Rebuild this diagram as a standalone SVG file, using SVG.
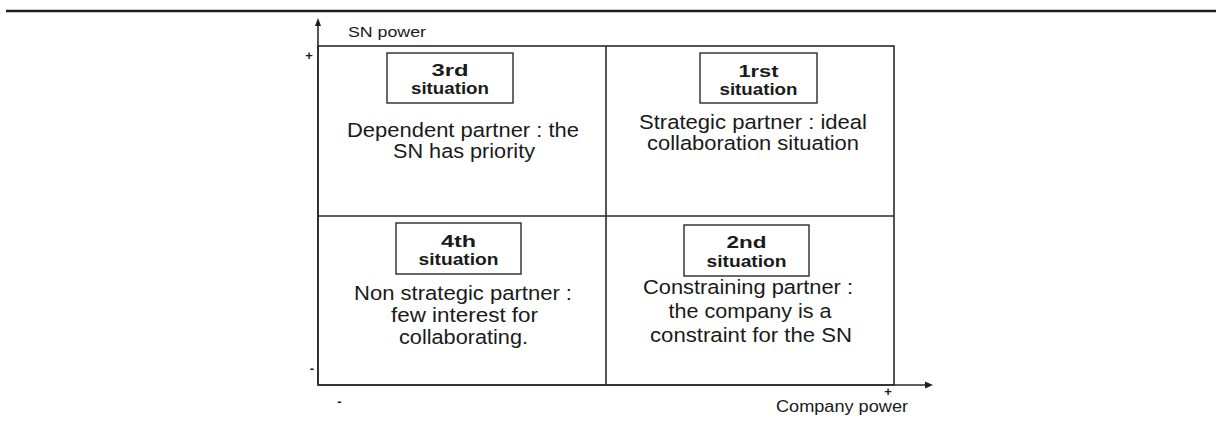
<svg xmlns="http://www.w3.org/2000/svg" width="1218" height="423" viewBox="0 0 1218 423">
<style>
.t{font-family:"Liberation Sans",Arial,sans-serif;fill:#1a1a1a;text-anchor:middle}
.body{font-size:20.5px}
.bold{font-size:16px;font-weight:bold}
.ax{font-family:"Liberation Sans",Arial,sans-serif;fill:#1a1a1a}
.sign{font-family:"Liberation Sans",Arial,sans-serif;fill:#1a1a1a;font-weight:bold;font-size:13px;text-anchor:middle}
.grid{fill:none;stroke:#2a2a2a;stroke-width:1.6}
.box{fill:#fff;stroke:#2a2a2a;stroke-width:1.4}
</style>
<rect width="1218" height="423" fill="#fff"/>
<line x1="6" y1="11" x2="1216" y2="11" stroke="#1e1e1e" stroke-width="2.5"/>
<g id="connectors">
<line class="grid" x1="318" y1="385" x2="318" y2="24"/>
<polygon points="318,18 315,26 321,26" fill="#1e1e1e"/>
<line class="grid" x1="318" y1="385" x2="927" y2="385"/>
<polygon points="933,385 925,381.5 925,388.5" fill="#1e1e1e"/>
<text class="ax" x="348" y="37" font-size="15.5" textLength="78" lengthAdjust="spacingAndGlyphs">SN power</text>
<text class="ax" x="776" y="412" font-size="16" textLength="132" lengthAdjust="spacingAndGlyphs">Company power</text>
<text class="sign" x="309" y="60">+</text>
<text class="sign" x="312" y="372.5">-</text>
<text class="sign" x="339.5" y="405.5">-</text>
<text class="sign" x="888" y="396">+</text>
</g>
<g id="grid">
<rect class="grid" x="318" y="46" width="576" height="339"/>
<line class="grid" x1="606" y1="46" x2="606" y2="385"/>
<line class="grid" x1="318" y1="216" x2="894" y2="216"/>
</g>
<g id="q3">
<rect class="box" x="387" y="53" width="126" height="50"/>
<text class="t bold" x="450" y="76" textLength="37" lengthAdjust="spacingAndGlyphs">3rd</text>
<text class="t bold" x="450" y="94" textLength="78" lengthAdjust="spacingAndGlyphs">situation</text>
<text class="t body" x="463" y="137" textLength="232" lengthAdjust="spacingAndGlyphs">Dependent partner : the</text>
<text class="t body" x="464" y="158" textLength="142" lengthAdjust="spacingAndGlyphs">SN has priority</text>
</g>
<g id="q1">
<rect class="box" x="700" y="53" width="117" height="50"/>
<text class="t bold" x="758.5" y="77" textLength="40" lengthAdjust="spacingAndGlyphs">1rst</text>
<text class="t bold" x="758.5" y="95" textLength="78" lengthAdjust="spacingAndGlyphs">situation</text>
<text class="t body" x="753" y="129" textLength="228" lengthAdjust="spacingAndGlyphs">Strategic partner : ideal</text>
<text class="t body" x="753" y="150" textLength="212" lengthAdjust="spacingAndGlyphs">collaboration situation</text>
</g>
<g id="q4">
<rect class="box" x="396" y="223" width="125" height="51"/>
<text class="t bold" x="458.5" y="247" textLength="35" lengthAdjust="spacingAndGlyphs">4th</text>
<text class="t bold" x="458.5" y="265" textLength="80" lengthAdjust="spacingAndGlyphs">situation</text>
<text class="t body" x="463" y="300" textLength="218" lengthAdjust="spacingAndGlyphs">Non strategic partner :</text>
<text class="t body" x="464.5" y="322" textLength="147" lengthAdjust="spacingAndGlyphs">few interest for</text>
<text class="t body" x="463.5" y="344" textLength="129" lengthAdjust="spacingAndGlyphs">collaborating.</text>
</g>
<g id="q2">
<rect class="box" x="684" y="225" width="125" height="51"/>
<text class="t bold" x="746.5" y="248" textLength="40" lengthAdjust="spacingAndGlyphs">2nd</text>
<text class="t bold" x="746.5" y="267" textLength="80" lengthAdjust="spacingAndGlyphs">situation</text>
<text class="t body" x="748" y="294" textLength="210" lengthAdjust="spacingAndGlyphs">Constraining partner :</text>
<text class="t body" x="750" y="318" textLength="163" lengthAdjust="spacingAndGlyphs">the company is a</text>
<text class="t body" x="751" y="342" textLength="202" lengthAdjust="spacingAndGlyphs">constraint for the SN</text>
</g>
</svg>
